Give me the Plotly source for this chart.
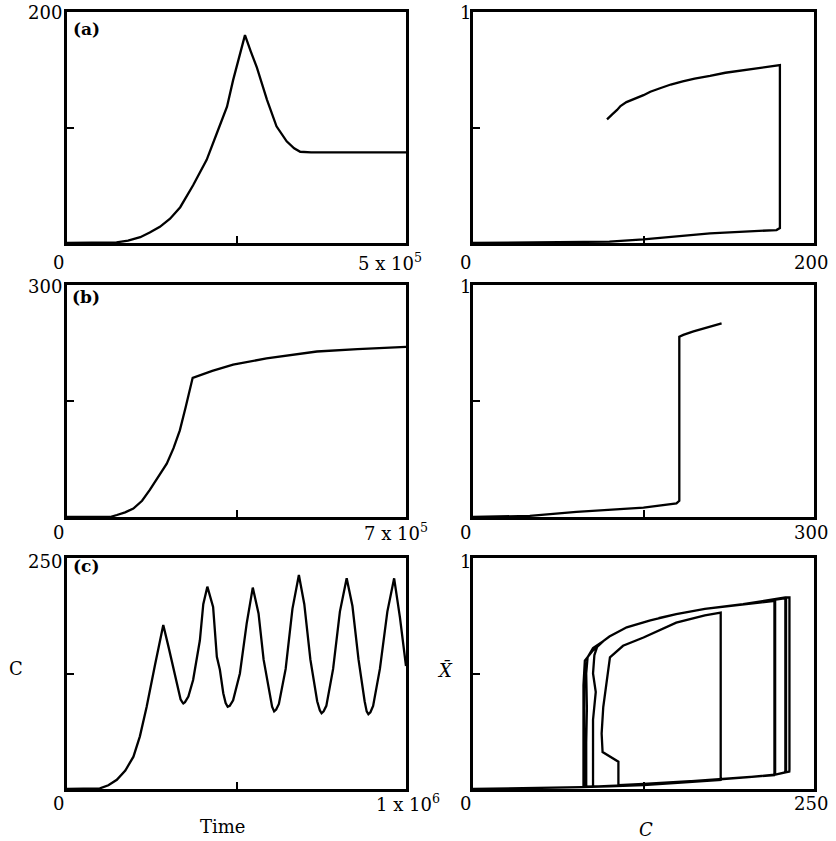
import plotly.graph_objects as go

# ---------------- data ----------------
# Panel (a): time series
a_time = [0, 50e3, 73e3, 90e3, 108e3, 122e3, 137e3, 152e3, 167e3, 186e3, 206e3, 221e3, 236e3, 245e3, 254e3, 262.5e3,
          271e3, 280e3, 295e3, 309e3, 324e3, 335e3, 344e3, 360e3, 500e3]
a_C = [0, 0, 0.6, 2, 5, 9, 14, 21, 31, 50, 72, 95, 118, 141, 160, 180,
       166, 152, 124, 101, 88, 82, 79, 78.5, 78.5]
# Panel (a): phase portrait
a_pC = [0, 50, 80, 100, 139, 178, 180, 180, 170, 158.5, 148, 139, 130, 123, 116, 109.7, 104, 100, 95, 90, 86.5, 84.5, 81.5, 78.6]
a_pX = [0, 0.003, 0.006, 0.016, 0.042, 0.056, 0.065, 0.77, 0.76, 0.749, 0.737, 0.723, 0.712, 0.70, 0.686, 0.67, 0.655, 0.64, 0.626, 0.61, 0.593, 0.576, 0.556, 0.535]

# Panel (b): time series
b_time = [0, 88.8e3, 103e3, 120e3, 137e3, 155e3, 171e3, 188e3, 206e3, 220e3, 233e3, 245e3, 257e3, 259.5e3,
          300e3, 343e3, 412e3, 516e3, 600e3, 700e3]
b_C = [0, 0, 2.6, 6, 11, 21, 35, 51, 69, 89, 112, 142, 177, 180,
       189, 197, 205, 214, 217, 220]
# Panel (b): phase portrait
b_pC = [0, 50, 91, 150, 179, 181.5, 181.5, 185, 194, 205, 218.7]
b_pX = [0, 0.005, 0.022, 0.04, 0.059, 0.07, 0.777, 0.785, 0.80, 0.815, 0.835]

# Panel (c): time series
c_time = [0, 97e3, 122e3, 147e3, 172e3, 196e3, 215e3, 235e3, 260e3, 284e3,
          300e3, 320e3, 335e3, 340e3, 343e3, 348e3, 358e3, 372e3, 392e3, 402e3, 414e3,
          431e3, 442e3, 451e3, 461e3, 468e3, 474e3, 480e3, 490e3, 510e3, 530e3, 548e3,
          565e3, 580e3, 598e3, 605e3, 611e3, 617e3, 625e3, 645e3, 665e3, 684e3,
          700e3, 718e3, 738e3, 746e3, 751e3, 757e3, 765e3, 785e3, 805e3, 825e3,
          842e3, 860e3, 878e3, 884e3, 889e3, 895e3, 903e3, 923e3, 945e3, 965e3,
          982e3, 1000e3]
c_C = [0, 0.7, 4, 10, 20, 35, 57, 89, 135, 177.5,
       153, 121, 97, 94, 92.7, 94, 100, 118, 161, 200, 219,
       197, 143, 129, 103.6, 93, 89, 90, 96, 125, 179, 218,
       190, 140, 100, 89, 84, 86, 92, 130, 195, 231.6,
       200, 140, 95, 85, 82, 84, 90, 130, 192, 228,
       198, 140, 95, 84, 81, 83, 90, 130, 192, 228,
       186, 133]
# Panel (c): phase portrait (trajectory in C, Xbar)
c_pC = [0, 40, 80, 100, 125, 150, 181.6,
        181.6, 181.6, 170, 149, 125, 110, 100.4, 98, 95.5, 94.3, 95, 106.6, 106.6,
        125, 150, 181, 200, 220.7,
        221, 221, 198, 170, 149, 130, 112.7, 100, 95.5, 91, 89, 88, 90, 88, 88, 88,
        100, 125, 150, 181, 200, 221,
        221.5, 221.5, 198, 170, 149, 130, 112.7, 100, 95.5, 88, 84, 83, 83.5, 83, 83,
        100, 125, 150, 181, 200, 220, 231.9,
        232, 232, 229, 198, 170, 149, 130, 112.7, 100, 95.5, 88, 82, 81.5, 81.5, 81.5,
        100, 125, 150, 181, 200, 220, 228.7,
        229, 229, 198, 170, 149, 130, 112.7, 100, 95.5, 88, 82, 81, 81, 81,
        100, 125, 150, 181, 200, 220, 229.5,
        229.5, 229.5, 198, 170, 149, 136]
c_pX = [0, 0.003, 0.008, 0.012, 0.017, 0.027, 0.039,
        0.05, 0.764, 0.752, 0.72, 0.656, 0.62, 0.57, 0.47, 0.355, 0.24, 0.16, 0.118, 0.017,
        0.022, 0.03, 0.042, 0.05, 0.06,
        0.07, 0.82, 0.80, 0.78, 0.757, 0.73, 0.70, 0.66, 0.64, 0.615, 0.58, 0.5, 0.42, 0.3, 0.15, 0.01,
        0.013, 0.019, 0.03, 0.042, 0.05, 0.062,
        0.07, 0.815, 0.80, 0.78, 0.757, 0.73, 0.70, 0.66, 0.64, 0.61, 0.57, 0.5, 0.35, 0.2, 0.01,
        0.012, 0.019, 0.03, 0.042, 0.05, 0.06, 0.075,
        0.085, 0.829, 0.829, 0.80, 0.78, 0.757, 0.73, 0.70, 0.66, 0.64, 0.60, 0.556, 0.45, 0.2, 0.01,
        0.012, 0.019, 0.03, 0.042, 0.05, 0.06, 0.072,
        0.08, 0.826, 0.80, 0.78, 0.757, 0.73, 0.70, 0.66, 0.64, 0.60, 0.556, 0.45, 0.2, 0.01,
        0.012, 0.019, 0.03, 0.042, 0.05, 0.06, 0.073,
        0.08, 0.826, 0.80, 0.78, 0.757, 0.74]

# axis maxima and tick labels
time_max = [5e5, 7e5, 1e6]
C_max = [200, 300, 250]
time_max_text = ["5 x 10<sup>5</sup>", "7 x 10<sup>5</sup>", "1 x 10<sup>6</sup>"]
C_max_text = ["200", "300", "250"]
panel_tags = ["(a)", "(b)", "(c)"]

# ---------------- figure ----------------
W, H = 836, 841
FONT = "DejaVu Serif"
fig = go.Figure()

left_x = (67, 406)
right_x = (473, 814)
rows_y = [(12, 243), (285, 517), (558, 789)]

def px2x(p):
    return p / W

def px2y(p):
    return 1 - p / H

series = [
    (a_time, a_C, a_pC, a_pX),
    (b_time, b_C, b_pC, b_pX),
    (c_time, c_C, c_pC, c_pX),
]

layout = {}
for r in range(3):
    y0, y1 = rows_y[r]
    ydom = [px2y(y1), px2y(y0)]
    for c in range(2):
        idx = r * 2 + c + 1
        suf = "" if idx == 1 else str(idx)
        xr = left_x if c == 0 else right_x
        if c == 0:
            xmax, ymax = time_max[r], C_max[r]
        else:
            xmax, ymax = C_max[r], 1
        common = dict(showline=True, mirror=True, linecolor="black", linewidth=2.5,
                      ticks="inside", ticklen=7, tickwidth=2, tickcolor="black",
                      showticklabels=False, showgrid=False, zeroline=False, fixedrange=True)
        layout["xaxis" + suf] = dict(domain=[px2x(xr[0]), px2x(xr[1])], range=[0, xmax],
                                     tickvals=[xmax / 2], anchor="y" + suf, **common)
        layout["yaxis" + suf] = dict(domain=ydom, range=[0, ymax],
                                     tickvals=[ymax / 2], anchor="x" + suf, **common)
        if c == 0:
            xs, ys = series[r][0], series[r][1]
        else:
            xs, ys = series[r][2], series[r][3]
        line = dict(color="black", width=2.3)
        fig.add_trace(go.Scatter(x=xs, y=ys, mode="lines", line=line,
                                 xaxis="x" + suf, yaxis="y" + suf,
                                 showlegend=False, hoverinfo="skip"))

ann = []
def add_text(txt, px, py, size=18, xanchor="center", yanchor="middle", **kw):
    ann.append(dict(text=txt, x=px2x(px), y=px2y(py), xref="paper", yref="paper",
                    showarrow=False, xanchor=xanchor, yanchor=yanchor,
                    font=dict(family=FONT, size=size, color="black", **kw)))

label_rows = [(13, 262), (286, 532), (561, 803)]
time_label_x = [390, 396, 408]
tag_y = [29, 297, 566]
for r in range(3):
    ytop, ybot = label_rows[r]
    add_text(C_max_text[r], 64, ytop, xanchor="right")
    add_text("0", 58, ybot)
    add_text(time_max_text[r], time_label_x[r], ybot)
    add_text("1", 465, ytop)
    add_text("0", 465, ybot)
    add_text(C_max_text[r], 811, ybot)
    add_text(panel_tags[r], 86, tag_y[r], size=17, weight="bold")

add_text("Time", 223, 826)
add_text("C", 16, 668)
add_text("<i>X̄</i>", 445, 670)
add_text("<i>C</i>", 646, 829)

fig.update_layout(width=W, height=H, margin=dict(l=0, r=0, t=0, b=0),
                  paper_bgcolor="white", plot_bgcolor="white",
                  annotations=ann, showlegend=False, **layout)

fig.write_html("out.html", config={"displayModeBar": False},
               post_script="document.body.style.margin='0';document.body.style.overflow='hidden';")
